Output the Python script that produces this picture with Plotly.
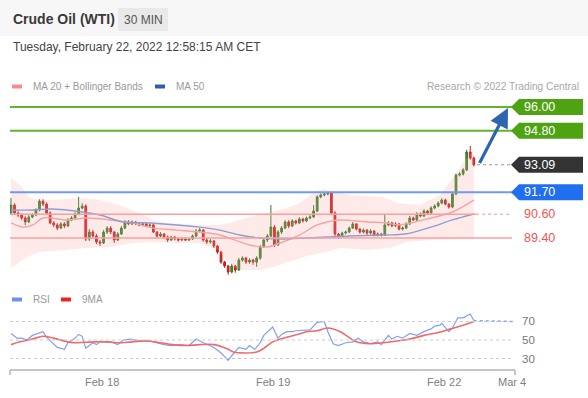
import plotly.graph_objects as go

# ---------------- data ----------------
bar_index = list(range(131))
closes = [91.06, 90.66, 90.56, 90.41, 90.21, 90.46, 90.56, 90.81, 91.26, 91.11,
          90.66, 90.16, 90.06, 89.90, 90.11, 90.01, 90.31, 90.41, 90.61, 90.91,
          91.01, 89.35, 89.70, 89.50, 89.20, 89.15, 89.70, 89.90, 89.70, 89.30,
          89.60, 89.90, 90.21, 90.11, 90.21, 90.11, 90.06, 90.11, 90.01, 90.06,
          89.70, 89.50, 89.60, 89.45, 89.30, 89.45, 89.35, 89.30, 89.35, 89.30,
          89.35, 89.50, 89.75, 89.80, 89.30, 89.20, 89.25, 89.00, 88.69, 88.19,
          87.99, 87.69, 87.99, 87.79, 88.29, 88.39, 88.19, 88.29, 88.19, 88.39,
          88.95, 89.30, 89.50, 89.95, 89.05, 89.70, 89.90, 90.21, 90.01, 90.26,
          90.16, 90.36, 90.26, 90.41, 90.46, 90.76, 91.47, 91.57, 91.62, 91.67,
          90.66, 89.60, 89.50, 89.65, 89.70, 89.90, 90.11, 89.85, 89.70, 89.80,
          89.65, 89.75, 89.55, 89.60, 89.55, 90.06, 90.16, 90.01, 90.11, 89.85,
          89.90, 90.11, 90.41, 90.31, 90.61, 90.51, 90.76, 90.66, 90.91, 91.01,
          91.16, 91.31, 91.11, 90.96, 91.62, 92.57, 92.62, 92.83, 93.73, 93.43,
          93.09]
first_open = 90.66
opens = [first_open] + closes[:-1]
highs = [91.41, 91.15, 90.75, 90.65, 90.50, 90.55, 90.65, 90.90, 91.35, 91.35,
         91.20, 90.75, 90.25, 90.15, 90.20, 90.20, 90.40, 90.50, 90.70, 91.47,
         91.15, 91.10, 89.85, 89.80, 89.60, 89.30, 89.80, 90.00, 90.00, 89.75,
         89.70, 90.00, 90.30, 90.30, 90.28, 90.25, 90.18, 90.18, 90.18, 90.12,
         90.12, 89.75, 89.70, 89.65, 89.52, 89.52, 89.50, 89.42, 89.42, 89.42,
         89.42, 89.58, 89.85, 89.90, 89.85, 89.40, 89.35, 89.30, 89.05, 88.75,
         88.25, 88.05, 88.10, 88.05, 88.40, 88.48, 88.45, 88.38, 88.35, 88.48,
         89.05, 89.40, 89.60, 91.06, 90.05, 89.80, 90.00, 90.30, 90.30, 90.35,
         90.32, 90.45, 90.42, 90.48, 90.55, 91.06, 91.55, 91.65, 91.70, 91.72,
         91.72, 90.75, 89.65, 89.72, 89.78, 89.98, 90.20, 90.15, 89.90, 89.88,
         89.85, 89.85, 89.80, 89.68, 89.65, 90.56, 90.25, 90.22, 90.20, 90.15,
         89.98, 90.20, 90.52, 90.48, 90.70, 90.68, 90.85, 90.82, 91.00, 91.10,
         91.25, 91.40, 91.38, 91.15, 91.70, 92.65, 92.72, 92.92, 93.85, 94.04,
         93.50]
lows = [90.60, 90.60, 90.45, 90.30, 90.05, 90.15, 90.40, 90.50, 90.75, 91.00,
        90.60, 90.10, 89.95, 89.80, 89.85, 89.90, 89.95, 90.25, 90.35, 90.55,
        90.85, 89.25, 89.25, 89.40, 89.10, 89.00, 89.10, 89.60, 89.60, 89.15,
        89.25, 89.55, 89.85, 90.05, 90.05, 90.05, 90.00, 90.00, 89.95, 89.95,
        89.65, 89.40, 89.45, 89.35, 89.20, 89.25, 89.28, 89.22, 89.25, 89.25,
        89.25, 89.30, 89.45, 89.70, 89.22, 89.10, 89.12, 88.90, 88.60, 88.10,
        87.90, 87.55, 87.62, 87.65, 87.75, 88.20, 88.10, 88.10, 88.05, 87.95,
        88.30, 88.90, 89.20, 89.45, 88.95, 89.00, 89.60, 89.85, 89.90, 89.95,
        90.08, 90.10, 90.18, 90.20, 90.35, 90.40, 90.70, 91.40, 91.50, 91.55,
        90.55, 89.40, 89.35, 89.42, 89.58, 89.65, 89.85, 89.78, 89.62, 89.62,
        89.55, 89.58, 89.48, 89.48, 89.48, 89.50, 90.00, 89.95, 89.95, 89.78,
        89.78, 89.85, 90.05, 90.25, 90.25, 90.45, 90.45, 90.60, 90.60, 90.85,
        90.95, 91.10, 91.05, 90.88, 90.90, 91.55, 92.50, 92.55, 92.78, 93.35,
        93.00]

bb_upper_x = [0, 2.5, 5.3, 8, 11, 19.4, 25, 30.6, 36, 40, 44, 53, 58.7, 62.4, 67, 72,
              77.5, 81, 85, 87.6, 90.4, 95, 104.5, 108.4, 115, 120.5, 124.7, 127.5, 130]
bb_upper = [92.42, 92.07, 91.41, 91.31, 91.31, 91.41, 91.31, 91.06, 90.66, 90.31, 90.16,
            90.06, 90.06, 90.21, 90.46, 90.66, 90.91, 91.16, 91.67, 91.87, 91.77, 91.57,
            91.47, 91.16, 91.06, 91.57, 92.57, 93.33, 93.83]
bb_lower_x = [0, 4.5, 8, 15.7, 21.3, 28, 34, 42, 47.5, 53, 58, 62.4, 65, 70, 73.6, 78,
              84, 88.8, 92.4, 100, 106.5, 111, 117.7, 130]
bb_lower = [87.89, 88.44, 88.70, 88.80, 88.90, 88.95, 89.15, 89.20, 89.15, 89.15, 88.80,
            87.94, 87.79, 87.79, 87.94, 88.19, 88.54, 88.70, 88.90, 88.80, 88.90, 89.20,
            89.30, 89.35]
ma20_x = [0, 3.4, 6.2, 9, 15.7, 21.3, 28, 34, 40, 46.6, 53, 58.7, 67, 72, 75.6, 81, 86,
          88.8, 92.4, 100, 105.6, 108.7, 118, 124, 130]
ma20 = [90.16, 89.95, 90.06, 90.41, 90.31, 90.41, 90.31, 90.16, 89.90, 89.80, 89.70,
        89.55, 89.05, 88.95, 89.15, 89.55, 90.06, 90.21, 90.31, 90.21, 90.16, 90.06,
        90.41, 90.71, 91.31]
ma50_x = [0, 6.2, 11, 20.2, 25, 31.5, 39, 53, 58.7, 64.3, 70, 76.4, 83, 88.8, 95, 105,
          110.7, 118, 124, 130]
ma50 = [90.81, 90.81, 90.86, 90.71, 90.56, 90.21, 90.16, 89.95, 89.80, 89.55, 89.40,
        89.35, 89.40, 89.45, 89.50, 89.55, 89.60, 89.95, 90.31, 90.61]

rsi_x = [0, 1.7, 3, 4.5, 6, 9, 10, 12, 13, 15, 16, 18, 19, 20, 21, 23, 24, 25, 28, 30,
         31.5, 33.5, 36, 39, 41, 43, 45, 47.5, 50, 52, 54, 56, 57, 59, 61, 62, 64, 66,
         67, 68.5, 70, 71, 73.5, 75, 76, 77.5, 79, 80, 84, 86, 88, 89, 90.5, 92, 94, 96,
         97.5, 99, 101, 103, 104, 106, 107, 108.5, 110, 112, 114, 116, 118, 119, 120.5,
         121, 123, 124, 125.5, 127, 128, 129, 130]
rsi = [57, 52, 52, 50, 55, 59, 53, 45, 42, 40, 47, 52, 56, 54, 41, 47, 45, 48, 48, 45,
       50, 51, 49, 49, 47, 45, 44, 45, 44, 51, 47, 44, 42, 36, 28, 33, 42, 40,
       44, 40, 47, 55, 64, 52, 56, 59, 59, 60, 61, 69, 70, 59, 46, 44, 47, 48,
       52, 48, 46, 48, 45, 55, 51, 54, 52, 57, 55, 59, 62, 65, 66,
       68, 59, 63, 74, 74, 76, 78, 71]
rsi_ma_x = [0, 2.5, 6, 9, 12, 16, 18.5, 23, 27, 30, 34, 38, 42, 45.5, 49.5, 53, 57, 61,
            62.5, 66, 69, 71, 73.5, 77.5, 81, 83, 86, 89, 92.5, 97, 101, 104.5, 108.5,
            112, 116, 120, 123.5, 127, 130]
rsi_ma = [45, 48, 51, 54, 52, 48, 47, 48, 48, 47, 48, 49, 47, 45, 44, 45, 45, 40, 37,
          36, 37, 41, 48, 53, 56.5, 59, 60, 63, 59, 48, 46, 47, 49, 51, 55, 58, 62, 66, 70]

tick_pos = [25.6, 73.6, 121.6, 140.7]
tick_labels = ["Feb 18", "Feb 19", "Feb 22", "Mar 4"]
rsi_levels = [70, 50, 30]

target_1, target_2 = 96.00, 94.80
last_price = 93.09
pivot = 91.70
support_1, support_2 = 90.60, 89.40

# ---------------- layout helpers ----------------
W, H = 588, 398
FONT = "Liberation Sans, Arial, sans-serif"


def px(x):
    return x / W


def py(y):
    return 1 - y / H


X_RANGE = [-0.28, 141.57]
Y_RANGE = [87.285, 96.605]
RSI_RANGE = [17.6, 93.2]

fig = go.Figure()

# Bollinger band fill
fig.add_trace(go.Scatter(
    x=bb_upper_x + bb_lower_x[::-1], y=bb_upper + bb_lower[::-1],
    fill="toself", fillcolor="rgba(255,160,160,0.22)", line=dict(width=0),
    mode="lines", hoverinfo="skip", xaxis="x", yaxis="y"))
fig.add_trace(go.Scatter(x=ma20_x, y=ma20, mode="lines", line=dict(color="#f6a3a3", width=1.4),
                         line_shape="spline", xaxis="x", yaxis="y"))
fig.add_trace(go.Scatter(x=ma50_x, y=ma50, mode="lines", line=dict(color="#8d9fd2", width=1.4),
                         line_shape="spline", xaxis="x", yaxis="y"))
fig.add_trace(go.Candlestick(
    x=bar_index, open=opens, high=highs, low=lows, close=closes,
    increasing=dict(line=dict(color="#2f7d25", width=1), fillcolor="#3b8d2c"),
    decreasing=dict(line=dict(color="#c81e1e", width=1), fillcolor="#d42020"),
    whiskerwidth=0, xaxis="x", yaxis="y"))

# RSI panel
fig.add_trace(go.Scatter(x=rsi_x, y=rsi, mode="lines", line=dict(color="#7f9ff0", width=1.2),
                         xaxis="x2", yaxis="y2"))
fig.add_trace(go.Scatter(x=rsi_ma_x, y=rsi_ma, mode="lines", line=dict(color="#f06a6a", width=1.6),
                         line_shape="spline", xaxis="x2", yaxis="y2"))

shapes = []
ann = []

# header
shapes.append(dict(type="rect", xref="paper", yref="paper", x0=0, x1=1, y0=py(36), y1=1,
                   fillcolor="#f7f7f7", line=dict(width=0), layer="below"))
shapes.append(dict(type="rect", xref="paper", yref="paper", x0=px(118), x1=px(168),
                   y0=py(31), y1=py(8), fillcolor="#e9e9e9", line=dict(width=0)))
ann.append(dict(text="<b>Crude Oil (WTI)</b>", x=px(11), y=py(19), xref="paper", yref="paper",
                xanchor="left", yanchor="middle", showarrow=False,
                font=dict(size=14, color="#3a3a3a", family=FONT)))
ann.append(dict(text="30 MIN", x=px(143), y=py(19.5), xref="paper", yref="paper",
                xanchor="center", yanchor="middle", showarrow=False,
                font=dict(size=12, color="#555", family=FONT)))
ann.append(dict(text="Tuesday, February 22, 2022 12:58:15 AM CET", x=px(11), y=py(47),
                xref="paper", yref="paper", xanchor="left", yanchor="middle", showarrow=False,
                font=dict(size=12, color="#444", family=FONT)))

# legends
def legend_item(x, y, color, label):
    shapes.append(dict(type="rect", xref="paper", yref="paper", x0=px(x), x1=px(x + 10),
                       y0=py(y + 2), y1=py(y - 2), fillcolor=color, line=dict(width=0)))
    ann.append(dict(text=label, x=px(x + 19), y=py(y), xref="paper", yref="paper",
                    xanchor="left", yanchor="middle", showarrow=False,
                    font=dict(size=10, color="#9a9a9a", family=FONT)))

legend_item(12, 86.5, "#f98a8a", "MA 20 + Bollinger Bands")
legend_item(155, 86.5, "#2f5fa8", "MA 50")
legend_item(12, 299.5, "#6f8ff0", "RSI")
legend_item(61, 299.5, "#ee2222", "9MA")
ann.append(dict(text="Research © 2022 Trading Central", x=px(581), y=py(86.5), xref="paper",
                yref="paper", xanchor="right", yanchor="middle", showarrow=False,
                font=dict(size=10.2, color="#a8a8a8", family=FONT)))

# level lines
def hline(y, x0, x1, color, width, dash="solid"):
    shapes.append(dict(type="line", xref="paper", yref="y", x0=px(x0), x1=px(x1), y0=y, y1=y,
                       line=dict(color=color, width=width, dash=dash)))

hline(target_1, 10, 514, "#5fb52c", 2)
hline(target_2, 10, 514, "#5fb52c", 2)
hline(pivot, 10, 512, "#7099f0", 2)
hline(support_1, 10, 476, "#f8a0a0", 1.5)
hline(support_1, 476, 512, "#e59a9a", 1, "dot")
hline(support_2, 10, 512, "#f8a0a0", 1.5)
hline(last_price, 477, 512, "#999999", 1, "dot")

# tags
HALF = 8 / 19.85

def tag(y, fill, label):
    path = (f"M {px(511)},{y} L {px(519)},{y + HALF} L {px(583)},{y + HALF} "
            f"L {px(583)},{y - HALF} L {px(519)},{y - HALF} Z")
    shapes.append(dict(type="path", xref="paper", yref="y", path=path, fillcolor=fill,
                       line=dict(width=0)))
    ann.append(dict(text=f"{label:.2f}", x=px(522), y=y, xref="paper", yref="y",
                    xanchor="left", yanchor="middle", showarrow=False,
                    font=dict(size=12.5, color="white", family=FONT)))

tag(target_1, "#4ea312", target_1)
tag(target_2, "#4ea312", target_2)
tag(last_price, "#333333", last_price)
tag(pivot, "#1f6ff0", pivot)
for lv in (support_1, support_2):
    ann.append(dict(text=f"{lv:.2f}", x=px(522), y=lv, xref="paper", yref="y",
                    xanchor="left", yanchor="middle", showarrow=False,
                    font=dict(size=12.5, color="#f25555", family=FONT)))

# arrow
ann.append(dict(text="", x=139.6, y=95.95, xref="x", yref="y", ax=131.4, ay=93.1,
                axref="x", ayref="y", showarrow=True, arrowhead=2, arrowsize=1.2,
                arrowwidth=3.2, arrowcolor="#2c66b0", standoff=0))

# RSI grid + labels
for lv in rsi_levels:
    shapes.append(dict(type="line", xref="paper", yref="y2", x0=px(10), x1=px(513), y0=lv, y1=lv,
                       line=dict(color="#cccccc", width=1, dash="dot")))
    ann.append(dict(text=str(lv), x=px(520), y=lv, xref="paper", yref="y2", xanchor="left",
                    yanchor="middle", showarrow=False,
                    font=dict(size=11.5, color="#777", family=FONT)))
shapes.append(dict(type="line", xref="x2", yref="y2", x0=130, x1=141.3, y0=rsi[-1], y1=70,
                   line=dict(color="#8fa9f0", width=1.5, dash="dot")))

# bottom axis
shapes.append(dict(type="line", xref="paper", yref="paper", x0=px(10), x1=px(515),
                   y0=py(370), y1=py(370), line=dict(color="#b5b5b5", width=1.5)))
for xx in (10, 515):
    shapes.append(dict(type="line", xref="paper", yref="paper", x0=px(xx), x1=px(xx),
                       y0=py(370), y1=py(375), line=dict(color="#b5b5b5", width=1.5)))
for tp, tl in zip(tick_pos, tick_labels):
    ann.append(dict(text=tl, x=tp, y=py(382), xref="x2", yref="paper", xanchor="center",
                    yanchor="middle", showarrow=False,
                    font=dict(size=11, color="#808080", family=FONT)))

fig.update_layout(
    width=W, height=H, margin=dict(l=0, r=0, t=0, b=0),
    paper_bgcolor="white", plot_bgcolor="rgba(0,0,0,0)", showlegend=False,
    font=dict(family=FONT),
    xaxis=dict(domain=[px(10), px(515)], range=X_RANGE, visible=False, anchor="y",
               rangeslider=dict(visible=False), fixedrange=True),
    yaxis=dict(domain=[py(280), py(95)], range=Y_RANGE, visible=False, anchor="x"),
    xaxis2=dict(domain=[px(10), px(515)], range=X_RANGE, visible=False, anchor="y2"),
    yaxis2=dict(domain=[py(370), py(300)], range=RSI_RANGE, visible=False, anchor="x2"),
    shapes=shapes, annotations=ann,
)

fig.write_html(
    "out.html",
    config={"displayModeBar": False},
    post_script="document.body.style.margin='0px';document.body.style.overflow='hidden';",
)
